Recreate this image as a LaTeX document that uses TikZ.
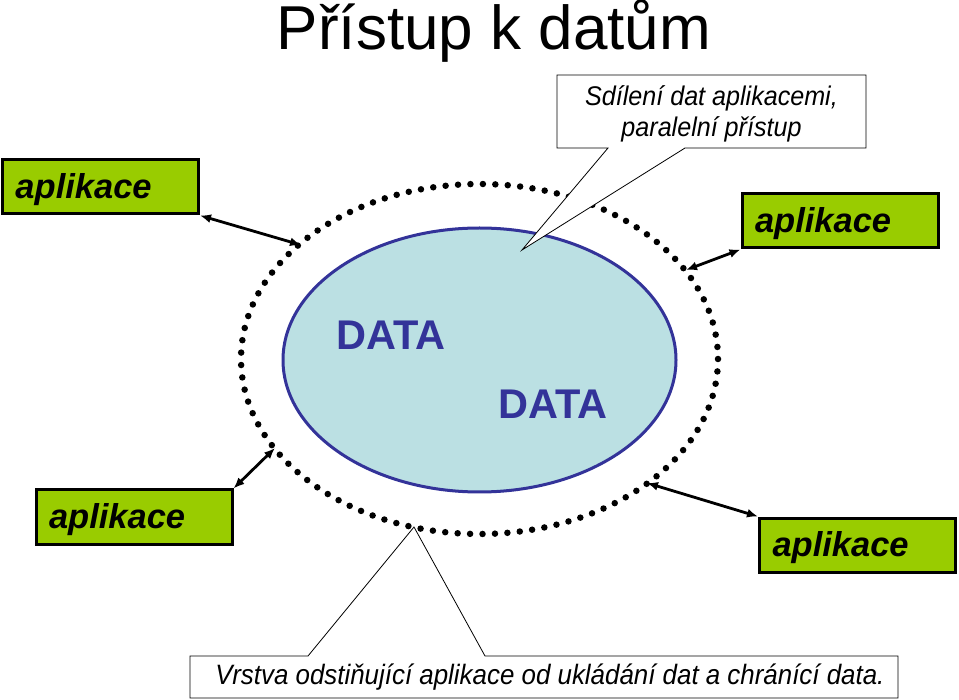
\documentclass[tikz,border=0pt]{standalone}
\usepackage{fontspec}
\setmainfont{Liberation Sans}
\usetikzlibrary{arrows.meta}
\definecolor{appgreen}{HTML}{99CC00}
\definecolor{datablue}{HTML}{333399}
\definecolor{datafill}{HTML}{BBE0E3}
\tikzset{
  appbox/.style={draw=black, line width=3pt, fill=appgreen, minimum height=54pt,
    text width=170pt, align=left, inner xsep=13pt, inner ysep=0pt,
    text height=30pt, text depth=6.4pt,
    font=\fontsize{34.5}{37}\selectfont\bfseries\itshape},
  datatext/.style={text=datablue, font=\fontsize{41.5}{44}\selectfont\bfseries},
  dblarrow/.style={line width=2.8pt, {Latex[length=11pt,width=9pt]}-{Latex[length=11pt,width=9pt]}},
  callout/.style={draw=black, line width=0.8pt, fill=white},
  calltext/.style={font=\fontsize{27}{31}\selectfont\itshape, align=center}
}
\begin{document}
\begin{tikzpicture}[x=1pt,y=-1pt]
\useasboundingbox (0,0) rectangle (959,700);
% title
\node[anchor=base, font=\fontsize{62}{66}\selectfont] (title) at (494,50) {Přístup k datům};
% layer (dotted ellipse) and data store
\draw[line width=6.5pt, line cap=round, dash pattern=on 0pt off 12.45pt] (479.5,359) ellipse [x radius=238.5, y radius=175];
\draw[draw=datablue, line width=3pt, fill=datafill] (479.5,360) ellipse [x radius=196.5, y radius=132];
\node[datatext] (d1) at (391,335) {DATA};
\node[datatext] (d2) at (553,404) {DATA};
% application boxes
\node[appbox] (a1) at (100.5,187) {aplikace};
\node[appbox] (a2) at (840,221) {aplikace};
\node[appbox] (a3) at (134,517) {aplikace};
\node[appbox] (a4) at (857.5,545) {aplikace};
% arrow end points on the layer
\coordinate (e1) at (301,245);
\coordinate (e2) at (686,270);
\coordinate (e3) at (275,448);
\coordinate (e4) at (647,483);
\draw[dblarrow] (a1.south east) -- (e1);
\draw[dblarrow] (e2) -- (a2.south west);
\draw[dblarrow] (a3.north east) -- (e3);
\draw[dblarrow] (e4) -- (a4.north west);
% top callout
\coordinate (t1) at (522,250);
\draw[callout] (557,75) -- (866,75) -- (866,148) -- (685,148) -- (t1) -- (608,148) -- (557,148) -- cycle;
\node[calltext] (c1) at (711.5,114) {\scalebox{0.93}[1]{Sdílení dat aplikacemi,}\\\scalebox{0.93}[1]{paralelní přístup}};
% bottom callout
\coordinate (t2) at (414,527);
\draw[callout] (190,656) -- (308,656) -- (t2) -- (485,656) -- (898,656) -- (898,698) -- (190,698) -- cycle;
\node[font=\fontsize{28}{30}\selectfont\itshape] (c2) at (550,677) {\scalebox{0.925}[1]{Vrstva odstiňující aplikace od ukládání dat a chránící data.}};
\end{tikzpicture}
\end{document}
